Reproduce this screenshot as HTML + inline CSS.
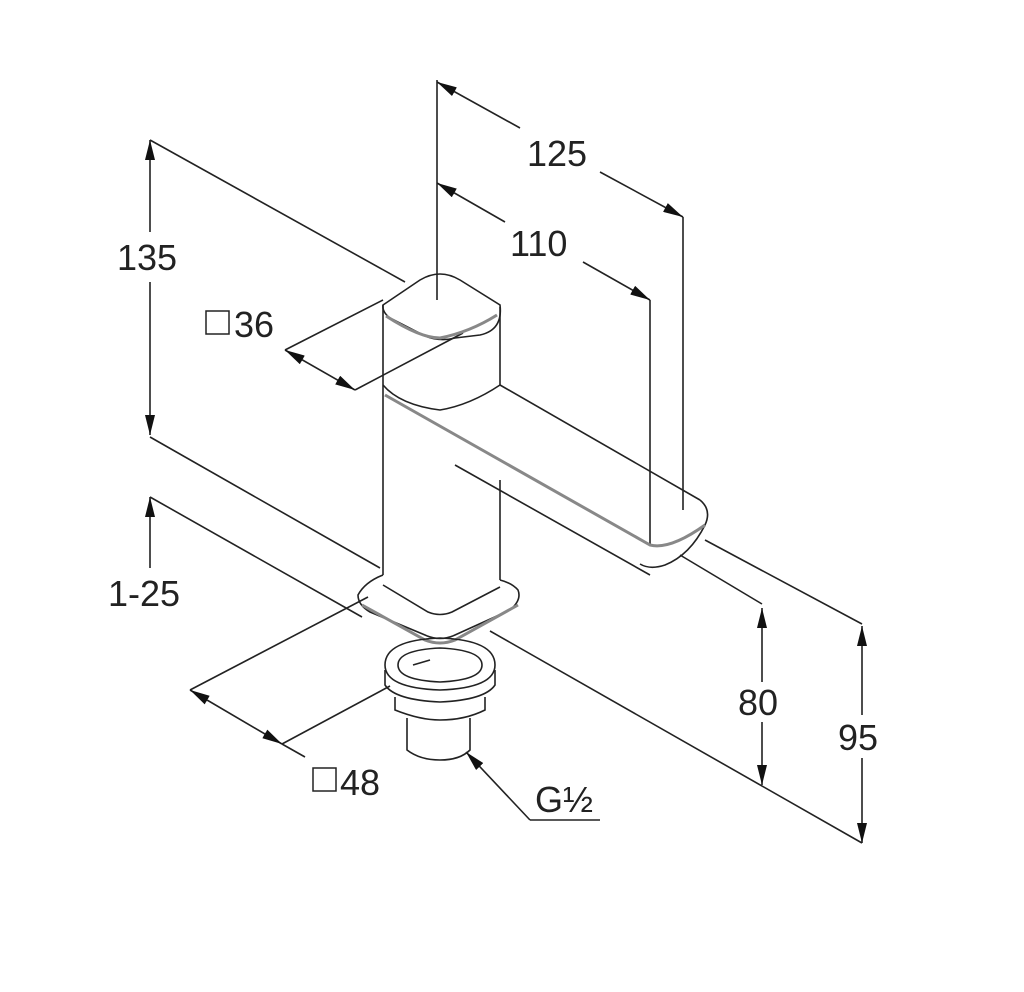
<!DOCTYPE html>
<html><head><style>
html,body{margin:0;padding:0;background:#fff;}
svg{display:block;}
text{font-family:"Liberation Sans",sans-serif;font-size:36px;fill:#222;}
</style></head><body>
<svg width="1024" height="992" viewBox="0 0 1024 992" xmlns="http://www.w3.org/2000/svg">
<defs>
<marker id="a" viewBox="0 0 20 10" refX="20" refY="5" markerWidth="20" markerHeight="10" markerUnits="userSpaceOnUse" orient="auto-start-reverse">
<path d="M0,0 L20,5 L0,10 z" fill="#111"/>
</marker>
</defs>
<g fill="none" stroke="#222" stroke-width="1.6">
<line x1="150" y1="140" x2="150" y2="232" marker-start="url(#a)"/>
<line x1="150" y1="282" x2="150" y2="435" marker-end="url(#a)"/>
<line x1="150" y1="140" x2="405" y2="282"/>
<line x1="150" y1="437" x2="380" y2="568"/>
<line x1="490" y1="631" x2="862" y2="843"/>
<line x1="150" y1="497" x2="362" y2="617"/>
<line x1="150" y1="497" x2="150" y2="568" marker-start="url(#a)"/>
<line x1="437" y1="80" x2="437" y2="300"/>
<line x1="437" y1="82" x2="520" y2="128" marker-start="url(#a)"/>
<line x1="600" y1="172" x2="683" y2="217" marker-end="url(#a)"/>
<line x1="683" y1="217" x2="683" y2="510"/>
<line x1="437" y1="183" x2="505" y2="222" marker-start="url(#a)"/>
<line x1="583" y1="262" x2="650" y2="300" marker-end="url(#a)"/>
<line x1="650" y1="300" x2="650" y2="545"/>
<line x1="285" y1="350" x2="355" y2="390" marker-start="url(#a)" marker-end="url(#a)"/>
<line x1="285" y1="350" x2="383" y2="300"/>
<line x1="355" y1="390" x2="463" y2="333"/>
<line x1="680" y1="555" x2="762" y2="604"/>
<line x1="705" y1="540" x2="862" y2="624"/>
<line x1="762" y1="608" x2="762" y2="682" marker-start="url(#a)"/>
<line x1="762" y1="722" x2="762" y2="785" marker-end="url(#a)"/>
<line x1="862" y1="626" x2="862" y2="715" marker-start="url(#a)"/>
<line x1="862" y1="758" x2="862" y2="843" marker-end="url(#a)"/>
<line x1="190" y1="690" x2="282" y2="744" marker-start="url(#a)" marker-end="url(#a)"/>
<line x1="190" y1="690" x2="368" y2="597"/>
<line x1="282" y1="744" x2="390" y2="686"/>
<line x1="282" y1="744" x2="305" y2="757"/>
<line x1="466" y1="752" x2="530" y2="820" marker-start="url(#a)"/>
<line x1="530" y1="820" x2="600" y2="820"/>

<path d="M383,305 L420,280 Q440,268 460,280 L500,305 Q503,330 480,335 L455,338 Q440,342 425,336 L390,318 Q382,312 383,305 Z"/>
<path d="M386,316 Q420,338 440,338 Q470,332 497,315" stroke="#888" stroke-width="3"/>
<line x1="383" y1="305" x2="383" y2="575"/>
<line x1="500" y1="307" x2="500" y2="385"/>
<path d="M383,385 Q400,405 440,410 Q470,405 500,385"/>
<line x1="500" y1="385" x2="700" y2="500"/>
<path d="M700,500 Q712,510 705,525 Q690,555 665,565 Q650,570 640,564" />
<path d="M385,395 L650,545 Q670,550 705,525" stroke="#888" stroke-width="3"/>
<line x1="455" y1="465" x2="650" y2="575"/>
<line x1="500" y1="480" x2="500" y2="580"/>
<path d="M383,575 Q365,582 358,595 Q358,605 370,612 L425,635 Q440,642 455,635 L510,610 Q522,600 518,590 Q512,583 500,580"/>
<path d="M362,605 L425,640 Q440,646 455,640 L518,605" stroke="#888" stroke-width="3"/>
<path d="M383,585 L428,612 Q440,617 452,612 L500,587"/>
<path d="M385,665 Q385,640 440,638 Q495,640 495,665 Q495,688 440,690 Q385,688 385,665 Z"/>
<path d="M398,665 Q398,650 440,648 Q482,650 482,665 Q482,680 440,682 Q398,680 398,665 Z"/>
<path d="M385,670 L385,685 Q395,700 440,702 Q485,700 495,685 L495,670"/>
<path d="M395,697 L395,710 Q420,720 440,720 Q465,720 485,710 L485,697"/>
<path d="M407,718 L407,750 Q420,760 440,760 Q460,760 470,750 L470,718"/>
<line x1="413" y1="665" x2="430" y2="660"/>
</g>
<rect x="122" y="235" width="56" height="45" fill="#fff"/>
<text x="117" y="270">135</text>
<text x="527" y="166">125</text>
<text x="510" y="256">110</text>
<rect x="206" y="311" width="23" height="23" fill="none" stroke="#222" stroke-width="1.5"/>
<text x="234" y="337">36</text>
<text x="108" y="606">1-25</text>
<rect x="740" y="685" width="44" height="36" fill="#fff"/>
<text x="738" y="715">80</text>
<rect x="840" y="718" width="44" height="38" fill="#fff"/>
<text x="838" y="750">95</text>
<rect x="313" y="768" width="23" height="23" fill="none" stroke="#222" stroke-width="1.5"/>
<text x="340" y="795">48</text>
<text x="535" y="812">G½</text>
</svg>
</body></html>
